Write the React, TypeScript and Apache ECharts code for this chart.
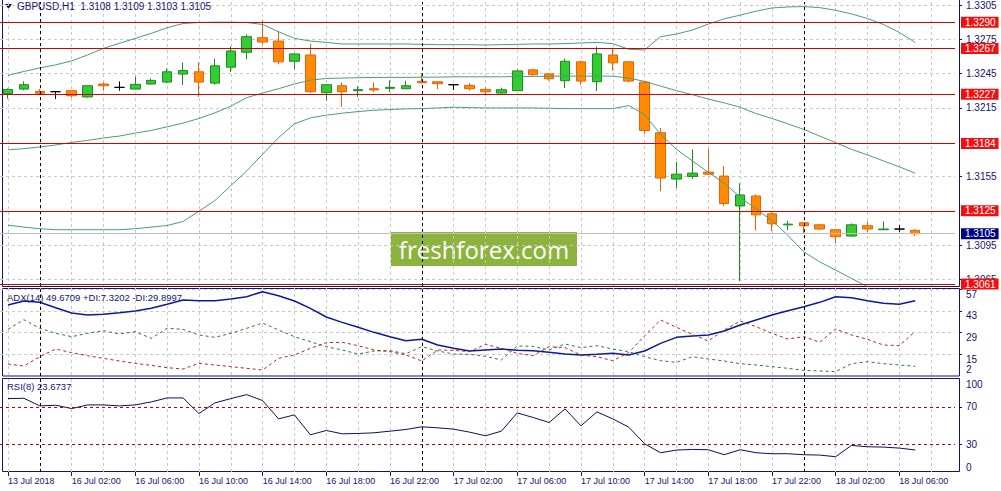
import React, { useEffect, useRef } from "react";
import * as echarts from "echarts";

// hourly slots, 13 Jul 22:00 .. 18 Jul 09:00 (weekend skipped)
const categories = [
  "13 Jul 22:00", "13 Jul 23:00",
  "16 Jul 00:00", "16 Jul 01:00", "16 Jul 02:00", "16 Jul 03:00", "16 Jul 04:00", "16 Jul 05:00",
  "16 Jul 06:00", "16 Jul 07:00", "16 Jul 08:00", "16 Jul 09:00", "16 Jul 10:00", "16 Jul 11:00",
  "16 Jul 12:00", "16 Jul 13:00", "16 Jul 14:00", "16 Jul 15:00", "16 Jul 16:00", "16 Jul 17:00",
  "16 Jul 18:00", "16 Jul 19:00", "16 Jul 20:00", "16 Jul 21:00", "16 Jul 22:00", "16 Jul 23:00",
  "17 Jul 00:00", "17 Jul 01:00", "17 Jul 02:00", "17 Jul 03:00", "17 Jul 04:00", "17 Jul 05:00",
  "17 Jul 06:00", "17 Jul 07:00", "17 Jul 08:00", "17 Jul 09:00", "17 Jul 10:00", "17 Jul 11:00",
  "17 Jul 12:00", "17 Jul 13:00", "17 Jul 14:00", "17 Jul 15:00", "17 Jul 16:00", "17 Jul 17:00",
  "17 Jul 18:00", "17 Jul 19:00", "17 Jul 20:00", "17 Jul 21:00", "17 Jul 22:00", "17 Jul 23:00",
  "18 Jul 00:00", "18 Jul 01:00", "18 Jul 02:00", "18 Jul 03:00", "18 Jul 04:00", "18 Jul 05:00",
  "18 Jul 06:00", "18 Jul 07:00", "18 Jul 08:00", "18 Jul 09:00",
];
const firstTickLabel = "13 Jul 2018";
const dayStarts = ["16 Jul 00:00", "17 Jul 00:00", "18 Jul 00:00"];

// [open, close, low, high]
const candles = [
  [1.32275, 1.32312, 1.32231, 1.3232],
  [1.32315, 1.32353, 1.32304, 1.32382],
  [1.32295, 1.32278, 1.32266, 1.32315],
  [1.32292, 1.32292, 1.32228, 1.32295],
  [1.32301, 1.32257, 1.3224, 1.32307],
  [1.32246, 1.32344, 1.3224, 1.32347],
  [1.32359, 1.32344, 1.32301, 1.32373],
  [1.3233, 1.3233, 1.32301, 1.32382],
  [1.32315, 1.32356, 1.32312, 1.32425],
  [1.32359, 1.32391, 1.32356, 1.32408],
  [1.32376, 1.32466, 1.32367, 1.32495],
  [1.32446, 1.32477, 1.3235, 1.32547],
  [1.32466, 1.32376, 1.32246, 1.32547],
  [1.32367, 1.32518, 1.32353, 1.32582],
  [1.32506, 1.32648, 1.32463, 1.32686],
  [1.32637, 1.32773, 1.32576, 1.32793],
  [1.32764, 1.32726, 1.32706, 1.32917],
  [1.32735, 1.32553, 1.32532, 1.32825],
  [1.32558, 1.32622, 1.32489, 1.32625],
  [1.32613, 1.32292, 1.3228, 1.32709],
  [1.32283, 1.32353, 1.32214, 1.32356],
  [1.32344, 1.32292, 1.32159, 1.32373],
  [1.32301, 1.3231, 1.32246, 1.32341],
  [1.32318, 1.32307, 1.32289, 1.32373],
  [1.32321, 1.3233, 1.32289, 1.32391],
  [1.32318, 1.32344, 1.32318, 1.32388],
  [1.32382, 1.3237, 1.32364, 1.32451],
  [1.32379, 1.32362, 1.32315, 1.32382],
  [1.32353, 1.32353, 1.32307, 1.32356],
  [1.32347, 1.32318, 1.32301, 1.32367],
  [1.32312, 1.32292, 1.32257, 1.3233],
  [1.3228, 1.32309, 1.32278, 1.32327],
  [1.32301, 1.32474, 1.32298, 1.32486],
  [1.32483, 1.3244, 1.32434, 1.32492],
  [1.32448, 1.32405, 1.32388, 1.32451],
  [1.32388, 1.32558, 1.32324, 1.32582],
  [1.32553, 1.32385, 1.3235, 1.32564],
  [1.32379, 1.32622, 1.32298, 1.32686],
  [1.32613, 1.32544, 1.32477, 1.32677],
  [1.32553, 1.32385, 1.32373, 1.32556],
  [1.32376, 1.31953, 1.31924, 1.32382],
  [1.31933, 1.31537, 1.31421, 1.31974],
  [1.31528, 1.31571, 1.31447, 1.31678],
  [1.31551, 1.3158, 1.31528, 1.31788],
  [1.31589, 1.31571, 1.31563, 1.31794],
  [1.31554, 1.31314, 1.31293, 1.31641],
  [1.31293, 1.31389, 1.30635, 1.3149],
  [1.3138, 1.31215, 1.31079, 1.31395],
  [1.31224, 1.31137, 1.31073, 1.31238],
  [1.31128, 1.31134, 1.31082, 1.31163],
  [1.31146, 1.3112, 1.3105, 1.31149],
  [1.31128, 1.31091, 1.31082, 1.31131],
  [1.31085, 1.31024, 1.30969, 1.31088],
  [1.3103, 1.31128, 1.31021, 1.3114],
  [1.3112, 1.31091, 1.31065, 1.31157],
  [1.31085, 1.31091, 1.31082, 1.31157],
  [1.31091, 1.31091, 1.31065, 1.31126],
  [1.3108, 1.3105, 1.3103, 1.3109],
];

const upperBand = [
  1.32434, 1.32469, 1.325, 1.32527, 1.32561, 1.32613, 1.32671, 1.32715, 1.32758, 1.32802,
  1.32851, 1.32888, 1.32897, 1.329, 1.329, 1.32897, 1.3288, 1.32816, 1.32758, 1.32735,
  1.32723, 1.32709, 1.32709, 1.32709, 1.32709, 1.32709, 1.32706, 1.32703, 1.32703, 1.32703,
  1.327, 1.32703, 1.32706, 1.32709, 1.32709, 1.32712, 1.32718, 1.32723, 1.32712, 1.32663,
  1.32657, 1.32773, 1.32796, 1.32831, 1.32883, 1.32929, 1.32961, 1.32996, 1.33024, 1.33033,
  1.33036, 1.33027, 1.33004, 1.32972, 1.32932, 1.3288, 1.3281, 1.32723,
];
const middleBand = [
  1.31783, 1.31794, 1.31809, 1.31826, 1.31849, 1.31866, 1.31887, 1.31904, 1.3193, 1.31953,
  1.31985, 1.32017, 1.32058, 1.32107, 1.32165, 1.3224, 1.3228, 1.32318, 1.32359, 1.32393,
  1.32408, 1.32411, 1.32414, 1.32417, 1.32417, 1.32417, 1.32419, 1.32419, 1.32422, 1.32422,
  1.32422, 1.32422, 1.32425, 1.32425, 1.32428, 1.32428, 1.32428, 1.32428, 1.32428, 1.32411,
  1.32382, 1.32341, 1.32301, 1.32266, 1.32228, 1.32194, 1.32156, 1.32101, 1.32058, 1.32011,
  1.31962, 1.31904, 1.31846, 1.31788, 1.31739, 1.31687, 1.31635, 1.3158,
];
const lowerBand = [
  1.31125, 1.31108, 1.31094, 1.31085, 1.31085, 1.31085, 1.31085, 1.31085, 1.31094, 1.31108,
  1.31122, 1.31157, 1.31247, 1.3134, 1.3147, 1.316, 1.31745, 1.3189, 1.32011, 1.32063,
  1.32087, 1.32104, 1.32118, 1.3213, 1.32136, 1.32142, 1.32144, 1.3215, 1.32156, 1.32153,
  1.3215, 1.3215, 1.3215, 1.3215, 1.32147, 1.32144, 1.32144, 1.32144, 1.32144, 1.3217,
  1.32092, 1.31919, 1.31788, 1.31687, 1.31586, 1.31493, 1.31369, 1.31267, 1.31166, 1.31036,
  1.30891, 1.30804, 1.30732, 1.30659, 1.30587, 1.30529, 1.30486, 1.30457,
];

const adx = [
  46.9, 49.45, 48.59, 45.15, 41.71, 40.42, 40.85, 41.92, 43.0, 44.72,
  47.3, 50.1, 49.66, 49.66, 50.74, 52.24, 55.47, 52.89, 49.45, 44.72,
  39.13, 35.68, 32.46, 29.23, 26.44, 23.86, 24.72, 21.06, 18.91, 17.19,
  17.84, 18.48, 17.62, 17.41, 16.33, 15.25, 14.61, 15.04, 15.68, 14.61,
  17.19, 22.14, 26.01, 26.87, 27.51, 30.09, 33.96, 37.19, 40.42, 43.21,
  45.79, 48.59, 52.24, 51.6, 49.66, 47.94, 47.3, 49.67,
];
const plusDi = [
  31.17, 37.41, 31.81, 28.59, 26.44, 28.59, 30.31, 28.16, 29.66, 25.36,
  31.81, 31.17, 27.51, 26.01, 28.59, 31.81, 35.25, 30.74, 26.44, 23.21,
  19.99, 17.84, 15.25, 17.19, 17.41, 15.47, 19.99, 17.19, 15.25, 15.04,
  13.75, 11.38, 20.42, 20.2, 17.84, 21.71, 19.34, 20.63, 18.48, 16.76,
  13.53, 10.95, 9.88, 13.53, 12.03, 10.74, 9.02, 8.16, 7.08, 6.01,
  4.72, 4.29, 3.86, 9.02, 10.31, 9.02, 8.16, 7.32,
];
const minusDi = [
  8.8, 7.51, 13.53, 18.48, 16.11, 14.18, 12.46, 10.74, 9.23, 7.94,
  6.44, 5.58, 9.23, 8.16, 7.08, 6.01, 4.93, 12.46, 14.61, 18.91,
  22.57, 22.78, 20.63, 17.84, 16.76, 14.61, 10.74, 17.84, 17.62, 16.76,
  21.49, 18.91, 15.68, 14.18, 19.99, 19.34, 14.61, 13.53, 10.95, 16.11,
  27.08, 37.19, 32.46, 27.94, 23.64, 30.74, 36.54, 32.89, 28.59, 24.93,
  26.44, 22.78, 31.38, 27.51, 24.72, 21.06, 20.63, 29.9,
];
const rsi = [
  78.93, 79.29, 71.07, 71.79, 68.21, 72.14, 72.14, 71.07, 72.14, 75.36,
  79.64, 79.64, 62.86, 74.29, 78.93, 83.21, 76.79, 57.14, 61.43, 40.0,
  44.64, 41.07, 41.43, 42.14, 43.93, 45.71, 48.57, 47.5, 46.07, 42.86,
  38.93, 43.93, 63.57, 58.57, 53.21, 67.86, 49.64, 64.64, 57.14, 48.21,
  30.36, 20.71, 23.57, 24.29, 23.93, 18.57, 23.93, 20.71, 19.64, 19.64,
  18.57, 18.21, 16.43, 28.57, 27.14, 26.79, 25.71, 23.67,
];

const priceTicks = [1.3065, 1.3095, 1.3125, 1.3155, 1.3185, 1.3215, 1.3245, 1.3275, 1.3305];
const levels = [1.329, 1.3267, 1.3227, 1.3184, 1.3125, 1.3061];
const bid = 1.3105;
const adxTicks = [57, 43, 29, 15];
const adxMinLabel = [2];
const rsiLevels = [70, 30];
const rsiTop = [100];
const rsiBottom = [0];

const headerText = "GBPUSD,H1  1.3108 1.3109 1.3103 1.3105";
const adxText = "ADX(14) 49.6709 +DI:7.3202 -DI:29.8997";
const rsiText = "RSI(8) 23.6737";

const FONT = "Liberation Sans";
const NAVY = "#14146e";
const GRID_GRAY = "#c9c9c9";
const DASH = [3, 3];

// grid lines that a level line already covers are left out
const gridTicks = priceTicks.filter((t) => !levels.some((l) => Math.abs(l - t) < 0.0002));

export default function App() {
  const chartRef = useRef<HTMLDivElement>(null);

  useEffect(() => {
    if (!chartRef.current) return;
    const chart = echarts.init(chartRef.current, undefined, { renderer: "svg" });

    const every4 = (i: number) => i % 4 === 0;
    const every2 = (i: number) => i % 2 === 0;

    const xAxisFor = (gridIndex: number, withLabels: boolean) => ({
      type: "category",
      gridIndex,
      data: categories,
      boundaryGap: true,
      axisLine: { show: false },
      axisTick: withLabels
        ? { show: true, alignWithLabel: true, interval: every4, length: 4, lineStyle: { color: NAVY } }
        : { show: false },
      axisLabel: withLabels
        ? {
            show: true,
            interval: every4,
            align: "left",
            margin: 4,
            color: NAVY,
            fontFamily: FONT,
            fontSize: 9,
            formatter: (v: string, i: number) => (i === 0 ? firstTickLabel : v),
          }
        : { show: false },
      splitLine: {
        show: true,
        interval: every2,
        alignWithLabel: true,
        lineStyle: { color: GRID_GRAY, type: DASH, width: 1 },
      },
    });

    const labelStyle = { color: NAVY, fontFamily: FONT, fontSize: 10 };

    const daySeparators = dayStarts.map((d) => ({
      xAxis: d,
      lineStyle: { color: "#000000", type: DASH, width: 1 },
      label: { show: false },
    }));

    const boxLabel = (text: string, bg: string) => ({
      show: true,
      position: "end",
      distance: 6,
      formatter: text,
      backgroundColor: bg,
      color: "#ffffff",
      padding: [1, 3, 0, 4],
      fontFamily: FONT,
      fontSize: 10,
    });

    const option: any = {
      animation: false,
      backgroundColor: "#ffffff",
      textStyle: { fontFamily: FONT },
      title: [
        { text: headerText, left: 17, top: 1, padding: 0, textStyle: { ...labelStyle, fontWeight: "normal" } },
        {
          text: adxText,
          left: 7,
          top: 292,
          padding: 0,
          textStyle: { ...labelStyle, fontSize: 9.5, fontWeight: "normal" },
        },
        {
          text: rsiText,
          left: 7,
          top: 381,
          padding: 0,
          textStyle: { ...labelStyle, fontSize: 9.5, fontWeight: "normal" },
        },
      ],
      grid: [
        { left: -5, top: 0, width: 960, height: 286 },
        { left: -5, top: 288, width: 960, height: 88 },
        { left: -5, top: 379, width: 960, height: 93 },
      ],
      xAxis: [xAxisFor(0, false), xAxisFor(1, false), xAxisFor(2, true)],
      yAxis: [
        {
          type: "value",
          gridIndex: 0,
          position: "right",
          offset: 4,
          min: 1.30593,
          max: 1.33076,
          axisLine: { show: false },
          axisTick: { show: true, customValues: gridTicks, length: 3, lineStyle: { color: NAVY } },
          axisLabel: { ...labelStyle, customValues: priceTicks, margin: 7, formatter: (v: number) => v.toFixed(4) },
          splitLine: { show: true, lineStyle: { color: GRID_GRAY, type: DASH } },
        },
        {
          type: "value",
          gridIndex: 1,
          position: "right",
          offset: 4,
          min: 1.06,
          max: 57.84,
          axisLine: { show: false },
          axisTick: { show: true, customValues: adxTicks, length: 3, lineStyle: { color: NAVY } },
          axisLabel: { ...labelStyle, customValues: adxTicks, margin: 7, verticalAlign: "top" },
          splitLine: { show: true, lineStyle: { color: GRID_GRAY, type: DASH } },
        },
        {
          type: "value",
          gridIndex: 1,
          position: "right",
          offset: 4,
          min: 1.06,
          max: 57.84,
          axisLine: { show: false },
          axisTick: { show: false },
          axisLabel: { ...labelStyle, customValues: adxMinLabel, margin: 7, verticalAlign: "bottom" },
          splitLine: { show: false },
        },
        {
          type: "value",
          gridIndex: 2,
          position: "right",
          offset: 4,
          min: 0,
          max: 100,
          axisLine: { show: false },
          axisTick: { show: true, customValues: rsiLevels, length: 3, lineStyle: { color: NAVY } },
          axisLabel: { ...labelStyle, customValues: rsiLevels, margin: 7 },
          splitLine: { show: false },
        },
        {
          type: "value",
          gridIndex: 2,
          position: "right",
          offset: 4,
          min: 0,
          max: 100,
          axisLine: { show: false },
          axisTick: { show: false },
          axisLabel: { ...labelStyle, customValues: rsiTop, margin: 7, verticalAlign: "top" },
          splitLine: { show: false },
        },
        {
          type: "value",
          gridIndex: 2,
          position: "right",
          offset: 4,
          min: 0,
          max: 100,
          axisLine: { show: false },
          axisTick: { show: false },
          axisLabel: { ...labelStyle, customValues: rsiBottom, margin: 7, verticalAlign: "bottom" },
          splitLine: { show: false },
        },
      ],
      series: [
        {
          type: "candlestick",
          xAxisIndex: 0,
          yAxisIndex: 0,
          data: candles,
          barWidth: 10,
          itemStyle: {
            color: "#33cc33",
            color0: "#ff8c00",
            borderColor: "#1f8a1f",
            borderColor0: "#e8600a",
            borderColorDoji: "#000000",
            borderWidth: 1,
          },
          markLine: {
            silent: true,
            symbol: ["none", "none"],
            precision: 4,
            animation: false,
            data: [
              ...daySeparators,
              {
                yAxis: bid,
                lineStyle: { color: "#c0c0c0", type: "solid", width: 1 },
                label: boxLabel(bid.toFixed(4), "#000080"),
              },
              ...levels.map((v) => ({
                yAxis: v,
                lineStyle: { color: "#d40000", type: "solid", width: 1.2 },
                label: boxLabel(v.toFixed(4), "#f01010"),
              })),
            ],
          },
        },
        ...[upperBand, middleBand, lowerBand].map((band) => ({
          type: "line",
          xAxisIndex: 0,
          yAxisIndex: 0,
          data: band,
          symbol: "none",
          lineStyle: { color: "#45a078", width: 1 },
        })),
        {
          type: "line",
          xAxisIndex: 1,
          yAxisIndex: 1,
          data: adx,
          symbol: "none",
          lineStyle: { color: "#0c1a96", width: 1.5 },
          markLine: { silent: true, symbol: ["none", "none"], animation: false, data: daySeparators },
        },
        {
          type: "line",
          xAxisIndex: 1,
          yAxisIndex: 1,
          data: plusDi,
          symbol: "none",
          lineStyle: { color: "#2a7d2a", width: 1, type: DASH },
        },
        {
          type: "line",
          xAxisIndex: 1,
          yAxisIndex: 1,
          data: minusDi,
          symbol: "none",
          lineStyle: { color: "#b82020", width: 1, type: DASH },
        },
        {
          type: "line",
          xAxisIndex: 2,
          yAxisIndex: 3,
          data: rsi,
          symbol: "none",
          lineStyle: { color: "#0a0f5a", width: 1 },
          markLine: {
            silent: true,
            symbol: ["none", "none"],
            animation: false,
            data: [
              ...daySeparators,
              ...rsiLevels.map((v) => ({
                yAxis: v,
                lineStyle: { color: "#c00000", type: DASH, width: 1 },
                label: { show: false },
              })),
            ],
          },
        },
      ],
      graphic: [
        {
          type: "polygon",
          shape: { points: [[5, 4], [12, 4], [8.5, 9]] },
          style: { fill: NAVY },
        },
        {
          type: "rect",
          shape: { x: 2.5, y: -2, width: 957, height: 288.5 },
          style: { fill: "none", stroke: NAVY, lineWidth: 1 },
          silent: true,
        },
        {
          type: "rect",
          shape: { x: 2.5, y: 288.5, width: 957, height: 87.5 },
          style: { fill: "none", stroke: NAVY, lineWidth: 1 },
          silent: true,
        },
        {
          type: "rect",
          shape: { x: 2.5, y: 378.5, width: 957, height: 93 },
          style: { fill: "none", stroke: NAVY, lineWidth: 1 },
          silent: true,
        },
        {
          type: "group",
          z: 100,
          children: [
            {
              type: "rect",
              shape: { x: 391, y: 232, width: 186, height: 34 },
              style: { fill: "#8db33f" },
            },
            {
              type: "text",
              x: 484,
              y: 249,
              style: {
                text: "freshforex.com",
                fill: "#ffffff",
                fontFamily: "Open Sans",
                fontSize: 24,
                align: "center",
                verticalAlign: "middle",
              },
            },
          ],
        },
      ],
    };

    chart.setOption(option);

    return () => {
      chart.dispose();
    };
  }, []);

  return (
    <div
      ref={chartRef}
      style={{ position: "absolute", left: 0, top: 0, width: "1001px", height: "491px", background: "#ffffff" }}
    />
  );
}
